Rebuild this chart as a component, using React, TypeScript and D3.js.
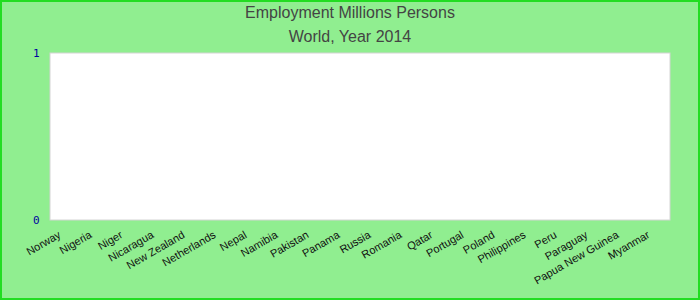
import React from "react";
import * as d3 from "d3";

const categories = [
  "Norway", "Nigeria", "Niger", "Nicaragua", "New Zealand", "Netherlands", "Nepal",
  "Namibia", "Pakistan", "Panama", "Russia", "Romania", "Qatar", "Portugal", "Poland",
  "Philippines", "Peru", "Paraguay", "Papua New Guinea", "Myanmar",
];
const values: (number | null)[] = [
  null, null, null, null, null, null, null, null, null, null,
  null, null, null, null, null, null, null, null, null, null,
];
const yTicks = [0, 1];
const title = "Employment Millions Persons";
const subtitle = "World, Year 2014";

const W = 700, H = 300;
const M = { left: 50, right: 30, top: 53, bottom: 80 };

export default function App() {
  const x = d3.scaleBand<string>().domain(categories).range([M.left, W - M.right]);
  const y = d3.scaleLinear().domain([0, 1]).range([H - M.bottom, M.top]);
  const font = "'Liberation Sans', Arial, sans-serif";
  return (
    <svg width={W} height={H} style={{ position: "absolute", left: 0, top: 0 }}>
      <rect x={1} y={1} width={W - 2} height={H - 2} fill="#90ee90" stroke="#22dd22" strokeWidth={2} />
      <text x={W / 2} y={18} textAnchor="middle" fontFamily={font} fontSize={16} fill="#444">{title}</text>
      <text x={W / 2} y={42} textAnchor="middle" fontFamily={font} fontSize={16} fill="#444">{subtitle}</text>
      <rect x={M.left} y={M.top} width={W - M.left - M.right} height={H - M.top - M.bottom} fill="#fff" stroke="#d4d4d4" strokeWidth={1} />
      {categories.map((c, i) => {
        const v = values[i];
        if (v == null) return null;
        return <rect key={c} x={x(c)! + 2} width={x.bandwidth() - 4} y={y(v)} height={y(0) - y(v)} fill="#4472c4" />;
      })}
      {yTicks.map((t) => (
        <text key={t} x={39.5} y={y(t) + 3.5} textAnchor="end" fontFamily="'DejaVu Sans Mono', monospace" fontSize={11} fill="#0000a0">{t}</text>
      ))}
      {categories.map((c) => {
        const cx = x(c)! + x.bandwidth() / 2 - 4;
        const cy = H - M.bottom + 17;
        return (
          <text key={c} x={cx} y={cy} transform={`rotate(-30 ${cx} ${cy})`} textAnchor="end" fontFamily={font} fontSize={11} fill="#111">{c}</text>
        );
      })}
    </svg>
  );
}
